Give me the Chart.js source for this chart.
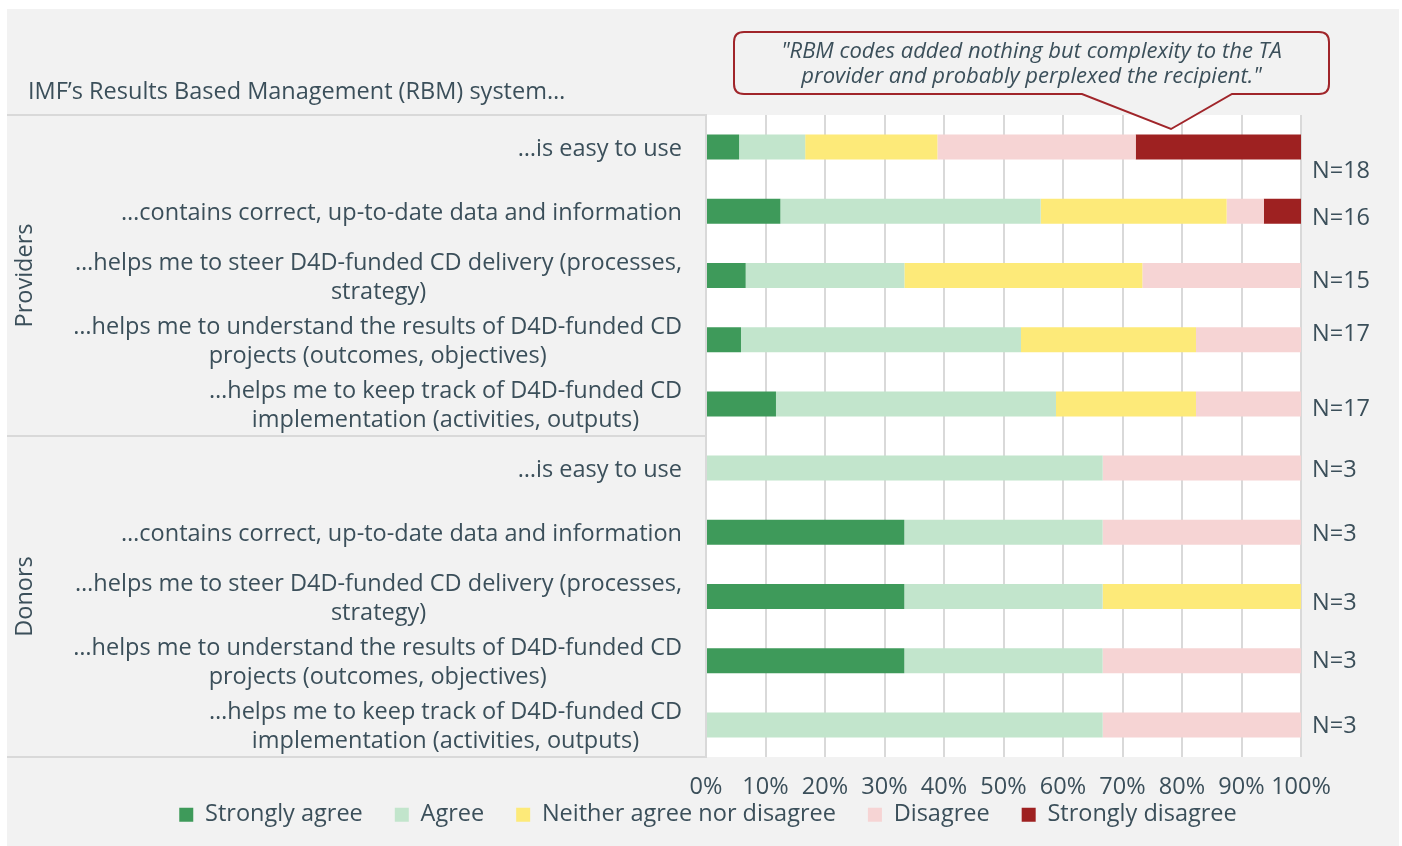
<!DOCTYPE html>
<html>
<head>
<meta charset="utf-8">
<script src="https://cdn.jsdelivr.net/npm/chart.js@4"></script>
<style>
html,body{margin:0;padding:0;background:#fff;}
#wrap{width:1402px;height:846px;}
</style>
</head>
<body>
<div id="wrap"><canvas id="c" width="1402" height="846"></canvas></div>
<script>
// ---------- data ----------
const chartTitle = "IMF’s Results Based Management (RBM) system…";
const groups = ["Providers", "Donors"];
const groupSizes = [5, 5];
const categories = [
  "…is easy to use",
  "…contains correct, up-to-date data and information",
  ["…helps me to steer D4D-funded CD delivery (processes,", "strategy)"],
  ["…helps me to understand the results of D4D-funded CD", "projects (outcomes, objectives)"],
  ["…helps me to keep track of D4D-funded CD", "implementation (activities, outputs)"],
  "…is easy to use",
  "…contains correct, up-to-date data and information",
  ["…helps me to steer D4D-funded CD delivery (processes,", "strategy)"],
  ["…helps me to understand the results of D4D-funded CD", "projects (outcomes, objectives)"],
  ["…helps me to keep track of D4D-funded CD", "implementation (activities, outputs)"]
];
const nLabels = ["N=18", "N=16", "N=15", "N=17", "N=17", "N=3", "N=3", "N=3", "N=3", "N=3"];
const seriesNames = ["Strongly agree", "Agree", "Neither agree nor disagree", "Disagree", "Strongly disagree"];
const stronglyAgree    = [5.56, 12.5, 6.67, 5.88, 11.76, 0, 33.33, 33.33, 33.33, 0];
const agree            = [11.11, 43.75, 26.67, 47.06, 47.06, 66.67, 33.33, 33.33, 33.33, 66.67];
const neither          = [22.22, 31.25, 40.0, 29.41, 23.53, 0, 0, 33.33, 0, 0];
const disagree         = [33.33, 6.25, 26.67, 17.65, 17.65, 33.33, 33.33, 0, 33.33, 33.33];
const stronglyDisagree = [27.78, 6.25, 0, 0, 0, 0, 0, 0, 0, 0];
const xTicks = [0, 10, 20, 30, 40, 50, 60, 70, 80, 90, 100];
const quoteLines = ['"RBM codes added nothing but complexity to the TA', 'provider and probably perplexed the recipient."'];

// ---------- style ----------
const TEXT = '#3b4f5a';
const GRID = '#d9d9d9';
const PANEL = '#f2f2f2';
const colors = ['#3e9a5a', '#c2e5cc', '#fdea79', '#f6d4d4', '#9e2121'];
const FONT = '"Open Sans", Lato, sans-serif';
const FS = 23.5;
const nLabelShift = [22, 5, 4, -7, 3, 0, 0, 5, -1, -1]; // vertical nudge of the N= annotations (px)

Chart.defaults.font.family = FONT;
Chart.defaults.color = TEXT;

const decor = {
  id: 'decor',
  beforeDraw(chart) {
    const {ctx, chartArea: a} = chart;
    ctx.save();
    ctx.fillStyle = '#ffffff';
    ctx.fillRect(0, 0, chart.width, chart.height);
    ctx.fillStyle = PANEL;
    ctx.fillRect(7, 9, 1392, 837);
    ctx.fillStyle = '#ffffff';
    ctx.fillRect(a.left, a.top, a.right - a.left, a.bottom - a.top);
    ctx.restore();
  },
  afterDraw(chart) {
    const {ctx, chartArea: a} = chart;
    const ys = chart.scales.y;
    const yn = chart.scales.yN;
    const dy = 2; // optical baseline correction
    ctx.save();
    // title
    ctx.fillStyle = TEXT;
    ctx.font = FS + 'px ' + FONT;
    ctx.textAlign = 'left';
    ctx.textBaseline = 'middle';
    ctx.fillText(chartTitle, 28, 90 + dy);
    // group separators
    const bounds = [a.top];
    let idx = 0;
    groupSizes.forEach(n => {
      idx += n;
      if (idx < categories.length) {
        bounds.push((ys.getPixelForTick(idx - 1) + ys.getPixelForTick(idx)) / 2);
      }
    });
    bounds.push(a.bottom);
    ctx.strokeStyle = GRID;
    ctx.lineWidth = 2;
    bounds.forEach(y => {
      ctx.beginPath();
      ctx.moveTo(7, y);
      ctx.lineTo(a.left, y);
      ctx.stroke();
    });
    // group labels
    ctx.textAlign = 'center';
    groups.forEach((g, i) => {
      const cy = (bounds[i] + bounds[i + 1]) / 2;
      ctx.save();
      ctx.translate(25, cy);
      ctx.rotate(-Math.PI / 2);
      ctx.fillText(g, 0, 0);
      ctx.restore();
    });
    // category labels (block right-aligned, lines centred)
    const lh = 29;
    const rightEdge = a.left - 24;
    categories.forEach((lab, i) => {
      const lines = Array.isArray(lab) ? lab : [lab];
      const w = Math.max(...lines.map(l => ctx.measureText(l).width));
      const cx = rightEdge - w / 2;
      const cy = ys.getPixelForTick(i) + dy;
      lines.forEach((l, k) => {
        ctx.fillText(l, cx, cy + (k - (lines.length - 1) / 2) * lh);
      });
    });
    // N= annotations on the right axis
    ctx.textAlign = 'left';
    nLabels.forEach((t, i) => {
      ctx.fillText(t, yn.left + 11, yn.getPixelForTick(i) + nLabelShift[i] + dy);
    });
    // callout
    const bx = 734, by = 32, bw = 595, bh = 62, r = 10;
    const p1 = 1082, tipX = 1171, tipY = 129, p2 = 1232;
    ctx.beginPath();
    ctx.moveTo(bx + r, by);
    ctx.lineTo(bx + bw - r, by);
    ctx.quadraticCurveTo(bx + bw, by, bx + bw, by + r);
    ctx.lineTo(bx + bw, by + bh - r);
    ctx.quadraticCurveTo(bx + bw, by + bh, bx + bw - r, by + bh);
    ctx.lineTo(p2, by + bh);
    ctx.lineTo(tipX, tipY);
    ctx.lineTo(p1, by + bh);
    ctx.lineTo(bx + r, by + bh);
    ctx.quadraticCurveTo(bx, by + bh, bx, by + bh - r);
    ctx.lineTo(bx, by + r);
    ctx.quadraticCurveTo(bx, by, bx + r, by);
    ctx.closePath();
    ctx.fillStyle = PANEL;
    ctx.fill();
    ctx.strokeStyle = '#a0252a';
    ctx.lineWidth = 2;
    ctx.stroke();
    ctx.fillStyle = TEXT;
    ctx.font = 'italic 22px ' + FONT;
    ctx.textAlign = 'center';
    quoteLines.forEach((l, k) => ctx.fillText(l, bx + bw / 2, 50 + dy + k * 25));
    ctx.restore();
  }
};

const seriesData = [stronglyAgree, agree, neither, disagree, stronglyDisagree];

new Chart(document.getElementById('c'), {
  type: 'bar',
  data: {
    labels: categories,
    datasets: seriesNames.map((name, i) => ({
      label: name,
      data: seriesData[i],
      backgroundColor: colors[i],
      borderWidth: 0,
      barPercentage: 0.39,
      categoryPercentage: 1.0
    }))
  },
  options: {
    indexAxis: 'y',
    responsive: false,
    animation: false,
    devicePixelRatio: 1,
    layout: {padding: {left: 14, right: 0, top: 115, bottom: 9.5}},
    plugins: {
      title: {display: false},
      legend: {
        position: 'bottom',
        align: 'center',
        labels: {
          boxWidth: 14,
          boxHeight: 14,
          padding: 32,
          color: TEXT,
          font: {size: FS}
        }
      },
      tooltip: {enabled: false}
    },
    scales: {
      x: {
        stacked: true,
        min: 0,
        max: 100,
        afterBuildTicks(scale) { scale.ticks = xTicks.map(v => ({value: v})); },
        ticks: {
          callback: v => v + '%',
          color: TEXT,
          font: {size: FS},
          padding: 16,
          maxRotation: 0,
          autoSkip: false
        },
        grid: {color: GRID, lineWidth: 2, drawTicks: false},
        border: {display: false},
        afterFit(scale) {
          scale.height = 14;
          scale._computeLabelArea = () => undefined; // let tick labels spill over the legend band
        }
      },
      y: {
        stacked: true,
        position: 'left',
        ticks: {display: false},
        grid: {display: false, drawTicks: false},
        border: {display: true, color: GRID, width: 2},
        afterFit(scale) { scale.width = 692; }
      },
      yN: {
        type: 'category',
        position: 'right',
        labels: nLabels,
        offset: true,
        ticks: {display: false},
        grid: {display: false, drawTicks: false},
        border: {display: false},
        afterFit(scale) { scale.width = 101; }
      }
    }
  },
  plugins: [decor]
});
</script>
</body>
</html>
